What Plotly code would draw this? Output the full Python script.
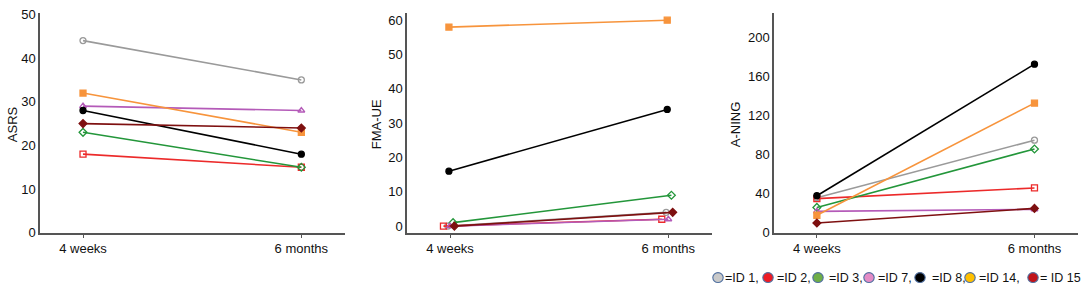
import plotly.graph_objects as go

# ---------------- data ----------------
timepoints = ["4 weeks", "6 months"]
ids = ["ID 1", "ID 2", "ID 3", "ID 7", "ID 8", "ID 14", "ID 15"]

asrs = {
    "ID 1": [44, 35],
    "ID 2": [18, 15],
    "ID 3": [23, 15],
    "ID 7": [29, 28],
    "ID 8": [28, 18],
    "ID 14": [32, 23],
    "ID 15": [25, 24],
}
fma_ue = {
    "ID 1": [0, 4],
    "ID 2": [0, 2],
    "ID 3": [1, 9],
    "ID 7": [0, 2],
    "ID 8": [16, 34],
    "ID 14": [58, 60],
    "ID 15": [0, 4],
}
a_ning = {
    "ID 1": [36, 95],
    "ID 2": [35, 46],
    "ID 3": [26, 86],
    "ID 7": [22, 24],
    "ID 8": [38, 173],
    "ID 14": [18, 133],
    "ID 15": [10, 25],
}
panel_titles = ["ASRS", "FMA-UE", "A-NING"]
panel_ticks = [[0, 10, 20, 30, 40, 50], [0, 10, 20, 30, 40, 50, 60], [0, 40, 80, 120, 160, 200]]
legend_labels = ["=ID 1,", "=ID 2,", "=ID 3,", "=ID 7,", "=ID 8,", "=ID 14,", "= ID 15"]

# ---------------- styles ----------------
line_colors = {
    "ID 1": "#9a9a9a", "ID 2": "#ec2a2a", "ID 3": "#23963a", "ID 7": "#b45ab8",
    "ID 8": "#000000", "ID 14": "#f7943c", "ID 15": "#7e1010",
}
symbols = {
    "ID 1": "circle-open", "ID 2": "square-open", "ID 3": "diamond-open", "ID 7": "triangle-up-open",
    "ID 8": "circle", "ID 14": "square", "ID 15": "diamond",
}
legend_fill = ["#c9c9c9", "#ee1c24", "#6fae47", "#e48cc6", "#000000", "#ffc000", "#c0141a"]
# small horizontal offsets used in the FMA-UE panel (overlapping points)
fma_offsets = {"ID 1": -0.01, "ID 2": -0.03, "ID 3": 0.014, "ID 7": 0.0, "ID 8": -0.005, "ID 14": -0.005, "ID 15": 0.02}

W, H = 1084, 297
FONT = "Arial, Liberation Sans, sans-serif"
panels = [
    dict(data=asrs, xd=(40, 345), yr=[0, 50.4], offs=None, title_x=12),
    dict(data=fma_ue, xd=(407, 712), yr=[-1.95, 62.2], offs=fma_offsets, title_x=376),
    dict(data=a_ning, xd=(774, 1078), yr=[0, 225.8], offs=None, title_x=735),
]
y_bottom, y_top = 238, 7

fig = go.Figure()
layout = dict(
    width=W, height=H, autosize=False,
    margin=dict(l=0, r=0, t=0, b=0),
    paper_bgcolor="white", plot_bgcolor="white",
    showlegend=False,
    font=dict(family=FONT, size=13, color="#111"),
)
annotations = []
shapes = []
base_x = [0, 1]
for i, p in enumerate(panels):
    n = "" if i == 0 else str(i + 1)
    for sid in ids:
        off = p["offs"][sid] if p["offs"] else 0
        fig.add_trace(go.Scatter(
            x=[v + off for v in base_x], y=p["data"][sid],
            mode="lines+markers",
            line=dict(color=line_colors[sid], width=1.6),
            marker=dict(symbol=symbols[sid], size=6, color=line_colors[sid],
                        line=dict(color=line_colors[sid], width=1.3)),
            xaxis="x" + n, yaxis="y" + n, name=sid, cliponaxis=False,
        ))
    layout["xaxis" + n] = dict(
        domain=[p["xd"][0] / W, p["xd"][1] / W], anchor="y" + n,
        range=[-0.197, 1.2], tickvals=base_x, ticktext=timepoints,
        showgrid=False, zeroline=False, showline=True, linecolor="#555", linewidth=1.5,
        ticks="outside", ticklen=3, tickcolor="#555", tickfont=dict(size=13, color="#111"),
    )
    layout["yaxis" + n] = dict(
        domain=[1 - y_bottom / H, 1 - y_top / H], anchor="x" + n,
        range=p["yr"], tickvals=panel_ticks[i],
        showgrid=False, zeroline=False, showline=True, linecolor="#555", linewidth=1.5,
        ticks="", tickfont=dict(size=13, color="#111"),
    )
    annotations.append(dict(
        text=panel_titles[i], textangle=-90, x=p["title_x"] / W, y=1 - 124 / H,
        xref="paper", yref="paper", showarrow=False, font=dict(size=13, color="#111"),
        xanchor="center", yanchor="middle",
    ))

# legend drawn as circles + text along the bottom
circle_x = [718, 768, 818, 869, 920, 970, 1033]
text_x = [723.5, 776, 828, 876.5, 931, 977.5, 1038.5]
ly = 285
r = 5.2
for cx, tx, fill, lab in zip(circle_x, text_x, legend_fill, legend_labels):
    shapes.append(dict(type="circle", xref="paper", yref="paper",
                       x0=(cx - r) / W, x1=(cx + r) / W, y0=1 - (ly + r) / H, y1=1 - (ly - r) / H,
                       fillcolor=fill, line=dict(color="#4f6f9f", width=1.1)))
    annotations.append(dict(text=lab, x=tx / W, y=1 - ly / H, xref="paper", yref="paper",
                            showarrow=False, xanchor="left", yanchor="middle",
                            borderpad=0, font=dict(size=12.5, color="#111")))

layout["annotations"] = annotations
layout["shapes"] = shapes
fig.update_layout(**layout)
fig.write_html(
    "out.html",
    config={"displayModeBar": False},
    post_script="document.body.style.margin='0';document.body.style.overflow='hidden';",
)
